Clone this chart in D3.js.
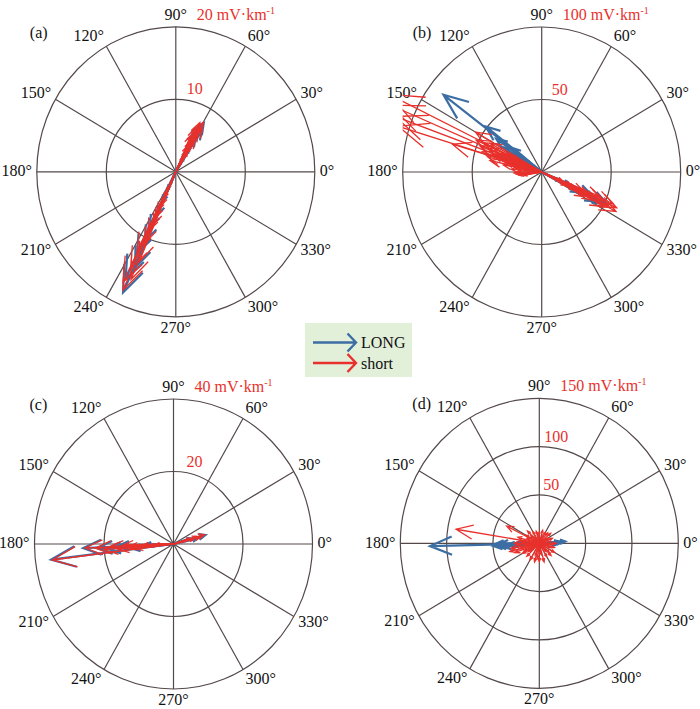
<!DOCTYPE html>
<html><head><meta charset="utf-8">
<script src="https://cdn.jsdelivr.net/npm/d3@7"></script>
<style>body{margin:0;background:#fff} svg{display:block}</style>
</head><body>
<svg id="chart" width="700" height="709"></svg>
<script>
// ---------------- data ----------------
const panelLabels = ["(a)", "(b)", "(c)", "(d)"];
const scaleMax = [20, 100, 40, 150];
const ringTicks = [[10, 20], [50, 100], [20, 40], [50, 100, 150]];
const ringLabelTicks = [[10], [50], [20], [50, 100]];
const unitValues = ["20", "100", "40", "150"];
const unitText = " mV·km";
const unitSup = "-1";
const angleTicks = [0, 30, 60, 90, 120, 150, 180, 210, 240, 270, 300, 330];
const legendNames = ["LONG", "short"];

// vectors as [direction (deg), magnitude (mV/km)]
const aLong = [[59,7.8],[62,7.3],[57,6.9],[61,6.4],[64,5.9],[58,5.3],[62,4.6],[60,3.8],[63,3.0],[59,2.2],[61,1.4],
  [245.5,18.3],[244,16.5],[246,14.5],[243.5,12.5],[245,10.5],[244,8.5],[246,6.5],[245,4.5],[244,2.5]];
const aShort = [[60,7.9],[63,7.6],[58,7.2],[61,7.0],[65,6.6],[59,6.3],[62,5.9],[67,5.4],[57,5.0],[64,4.6],[60,4.2],[66,3.7],[58,3.2],[62,2.7],[65,2.1],[60,1.5],[63,0.9],
  [245,18.0],[243.5,17.0],[246.5,16.2],[244,14.8],[247,13.5],[243,12.2],[245.5,10.8],[244,9.2],[246,8.0],[245,7.0],[244,6.0],[246,5.0],[245,4.0],[244,3.0],[246,2.0]];

const bLong = [[143,88.5],[142,51],[145,40],[148,32],[141,26],[150,20],[146,14],[152,9],
  [335,52],[333,45],[337,38],[332,30],[336,22],[334,14]];
const bShort = [[154,122],[157,118],[160,112],[163,108],[163.4,67],
  [150,55],[155,52],[158,48],[162,45],[165,40],[152,42],[168,38],[160,35],[156,30],[170,28],[164,25],[175,22],[158,20],
  [154,46],[157,42],[161,38],[159,33],[163,30],[166,27],[154,26],[160,24],[168,22],[172,18],[162,16],[157,14],[165,12],[170,9],
  [180,18],[185,18],[188,16],[182,20],[190,13],[186,10],[166,15],[172,12],[160,10],[182,8],[150,6],
  [335.5,59.3],[333,60],[337,56],[334,54],[332,51],[336,48],[338,45],[333,42],[335,38],[331,35],[337,32],[334,28],[336,24],[332,20],[338,16],[335,12],[333,8],[336,5]];

const cLong = [[187,35.5],[182.5,26],[183,22],[184,19],[182,16],[186,12],[181,8],[183,5],[15,9.5],[12,7],[18,5]];
const cShort = [[187.2,35.2],[182.5,25.5],[183,22.5],[184.5,20],[182,18],[185,16],[181,14.5],[183.5,13],[186,11],[182,9],[184,7],[180,5],[183,3],
  [16,9.3],[14,8],[17,7],[13,6],[18,5],[15,4],[12,3],[19,2]];

const dLong = [[181.4,118],[183,50],[181,48],[184,45],[180,42],[186,38],[182,33],[185,28],[179,25],[4,28],[2,24],[6,20],[180,20],[183,15],[355,18]];
const dShort = [[170.8,91],[153,39.5],[190,31],[195,33],[200,28],
  [0,18],[20,15],[40,16],[60,13],[75,14],[90,12],[105,13],[120,14],[135,18],[150,17],[165,24],[180,27],[195,22],[210,21],[225,19],
  [240,20],[255,20],[270,19],[285,20],[300,16],[315,18],[330,19],[345,17],[10,12],[30,10],[50,14],[70,9],[100,10],[130,9],
  [160,14],[190,16],[220,12],[250,13],[280,12],[310,11],[340,13],[175,20],[205,18],[350,10],
  [185,24],[170,18],[215,15],[262,16],[320,14],[355,15],[25,11],[140,12]];

const longSeries = [aLong, bLong, cLong, dLong];
const shortSeries = [aShort, bShort, cShort, dShort];

// ---------------- layout / style ----------------
const layout = [{cx:175.8, cy:171.8, lx:-146}, {cx:541.7, cy:172, lx:-129}, {cx:173.5, cy:544, lx:-144}, {cx:539.3, cy:543.3, lx:-127}];
const RX = 139, RY = 145;
const BLUE = "#3c6ea3", RED = "#e8312c", GRID = "#54494a";
const FONT = "'Liberation Serif','Times New Roman',serif";
const ringLabelDx = [[19], [18], [21], [12, 17]];
const rad = d => d * Math.PI / 180;

const svg = d3.select("#chart");
const defs = svg.append("defs");

function arrowPath(x, y, ang, mag) {
  const u = mag * Math.cos(rad(ang)), v = mag * Math.sin(rad(ang));
  const bx = 0.8 * u, by = 0.8 * v, px = -0.08 * v, py = 0.08 * u;
  const p = d3.path();
  p.moveTo(x(0), y(0)); p.lineTo(x(u), y(v));
  p.moveTo(x(bx + px), y(by + py)); p.lineTo(x(u), y(v)); p.lineTo(x(bx - px), y(by - py));
  return p.toString();
}

layout.forEach((L, i) => {
  const m = scaleMax[i];
  const x = d3.scaleLinear().domain([-m, m]).range([L.cx - RX, L.cx + RX]);
  const y = d3.scaleLinear().domain([-m, m]).range([L.cy + RY, L.cy - RY]);
  const g = svg.append("g");

  // rings
  g.selectAll("ellipse.ring").data(ringTicks[i]).join("ellipse")
    .attr("cx", x(0)).attr("cy", y(0))
    .attr("rx", t => x(t) - x(0)).attr("ry", t => y(0) - y(t))
    .attr("fill", "none").attr("stroke", GRID).attr("stroke-width", 1.2);
  // spokes
  g.selectAll("line.spoke").data(angleTicks).join("line")
    .attr("x1", x(0)).attr("y1", y(0))
    .attr("x2", a => x(m * Math.cos(rad(a)))).attr("y2", a => y(m * Math.sin(rad(a))))
    .attr("stroke", GRID).attr("stroke-width", 1.2);

  // angle labels
  const off = 5;
  g.selectAll("text.ang").data(angleTicks).join("text")
    .attr("x", a => L.cx + (RX + off) * Math.cos(rad(a)))
    .attr("y", a => L.cy - (RY + off) * Math.sin(rad(a)))
    .attr("dy", a => (0.28 - 0.41 * Math.sin(rad(a))) + "em")
    .attr("text-anchor", a => Math.cos(rad(a)) > 0.1 ? "start" : (Math.cos(rad(a)) < -0.1 ? "end" : "middle"))
    .attr("font-family", FONT).attr("font-size", 16).attr("fill", "#111")
    .text(a => a + "°");

  // ring value labels (red)
  g.selectAll("text.rl").data(ringLabelTicks[i]).join("text")
    .attr("x", (t, k) => x(0) + ringLabelDx[i][k])
    .attr("y", t => y(t) - 5)
    .attr("text-anchor", "middle")
    .attr("font-family", FONT).attr("font-size", 16).attr("fill", RED)
    .text(t => t);

  // unit label
  const ut = g.append("text").attr("x", L.cx + 21).attr("y", L.cy - RY - 7)
    .attr("font-family", FONT).attr("font-size", 16).attr("fill", RED);
  ut.append("tspan").text(unitValues[i] + unitText);
  ut.append("tspan").attr("font-size", 10).attr("dy", -6).text(unitSup);

  // panel label
  g.append("text").attr("x", L.cx + L.lx).attr("y", L.cy - 134)
    .attr("font-family", FONT).attr("font-size", 16).attr("fill", "#111")
    .text(panelLabels[i]);

  // arrows
  const cid = "clip" + i;
  defs.append("clipPath").attr("id", cid).append("rect")
    .attr("x", L.cx - RX).attr("y", L.cy - RY).attr("width", 2 * RX).attr("height", 2 * RY);
  const ag = g.append("g").attr("clip-path", `url(#${cid})`).attr("fill", "none")
    .attr("stroke-linejoin", "miter");
  ag.selectAll("path.long").data(longSeries[i]).join("path")
    .attr("d", d => arrowPath(x, y, d[0], d[1]))
    .attr("stroke", BLUE).attr("stroke-width", 2.2);
  ag.selectAll("path.short").data(shortSeries[i]).join("path")
    .attr("d", d => arrowPath(x, y, d[0], d[1]))
    .attr("stroke", RED).attr("stroke-width", 1.3);
});

// legend
const lg = svg.append("g");
lg.append("rect").attr("x", 305).attr("y", 323).attr("width", 107).attr("height", 54).attr("fill", "#e2efd9");
[BLUE, RED].forEach((c, k) => {
  const yy = 342.5 + k * 20.5;
  const p = d3.path();
  p.moveTo(313, yy); p.lineTo(356, yy);
  p.moveTo(347.5, yy - 9); p.lineTo(356, yy); p.lineTo(347.5, yy + 9);
  lg.append("path").attr("d", p.toString()).attr("fill", "none").attr("stroke", c).attr("stroke-width", 2.4);
  lg.append("text").attr("x", 361).attr("y", yy + 5.5)
    .attr("font-family", FONT).attr("font-size", 16).attr("fill", "#111").text(legendNames[k]);
});
</script>
</body></html>
